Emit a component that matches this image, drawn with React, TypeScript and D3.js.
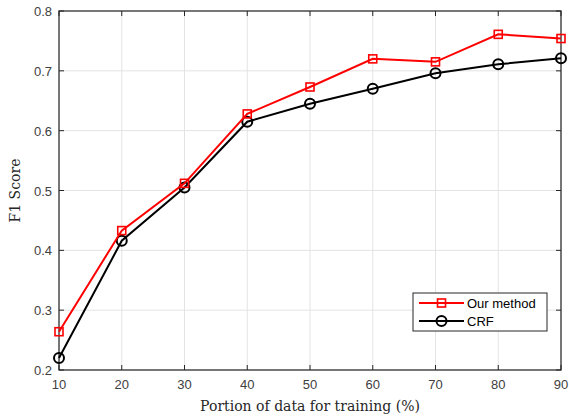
import React from "react";
import * as d3 from "d3";

const portions = [10, 20, 30, 40, 50, 60, 70, 80, 90];
const ourMethod = [0.264, 0.433, 0.512, 0.628, 0.673, 0.72, 0.715, 0.761, 0.754];
const crf = [0.22, 0.416, 0.505, 0.615, 0.645, 0.67, 0.696, 0.711, 0.721];
const xTicks = [10, 20, 30, 40, 50, 60, 70, 80, 90];
const yTicks = [0.2, 0.3, 0.4, 0.5, 0.6, 0.7, 0.8];

const W = 569, H = 419;
const margin = { top: 11, right: 8, bottom: 49, left: 59 };

export default function App() {
  const x = d3.scaleLinear().domain([10, 90]).range([margin.left, W - margin.right]);
  const y = d3.scaleLinear().domain([0.2, 0.8]).range([H - margin.bottom, margin.top]);
  const line = d3.line<number>().x((d, i) => x(portions[i])).y(d => y(d));

  const x0 = x.range()[0], x1 = x.range()[1];
  const y0 = y.range()[0], y1 = y.range()[1];
  const tickFont = "'Liberation Sans', Arial, sans-serif";
  const labelFont = "'DejaVu Serif', 'Liberation Serif', serif";

  return (
    <svg width={W} height={H} style={{ position: "absolute", left: 0, top: 0, background: "#fff" }}>
      {/* grid */}
      {xTicks.map(t => (
        <line key={"gx" + t} x1={x(t)} x2={x(t)} y1={y1} y2={y0} stroke="#e3e3e3" strokeWidth={1} />
      ))}
      {yTicks.map(t => (
        <line key={"gy" + t} x1={x0} x2={x1} y1={y(t)} y2={y(t)} stroke="#e3e3e3" strokeWidth={1} />
      ))}
      {/* ticks */}
      {xTicks.map(t => (
        <g key={"tx" + t}>
          <line x1={x(t)} x2={x(t)} y1={y0} y2={y0 - 5} stroke="#262626" />
          <line x1={x(t)} x2={x(t)} y1={y1} y2={y1 + 5} stroke="#262626" />
          <text x={x(t)} y={y0 + 19} textAnchor="middle" fontFamily={tickFont} fontSize={13} fill="#404040">{t}</text>
        </g>
      ))}
      {yTicks.map(t => (
        <g key={"ty" + t}>
          <line x1={x0} x2={x0 + 5} y1={y(t)} y2={y(t)} stroke="#262626" />
          <line x1={x1} x2={x1 - 5} y1={y(t)} y2={y(t)} stroke="#262626" />
          <text x={x0 - 7} y={y(t) + 5} textAnchor="end" fontFamily={tickFont} fontSize={13} fill="#404040">{t.toFixed(1)}</text>
        </g>
      ))}
      <rect x={x0} y={y1} width={x1 - x0} height={y0 - y1} fill="none" stroke="#262626" strokeWidth={1.2} />

      {/* series */}
      <path d={line(crf) || ""} fill="none" stroke="#000" strokeWidth={2} />
      {crf.map((v, i) => (
        <circle key={"c" + i} cx={x(portions[i])} cy={y(v)} r={5} fill="none" stroke="#000" strokeWidth={2} />
      ))}
      <path d={line(ourMethod) || ""} fill="none" stroke="#ff0000" strokeWidth={2} />
      {ourMethod.map((v, i) => (
        <rect key={"s" + i} x={x(portions[i]) - 4} y={y(v) - 4} width={8} height={8} fill="none" stroke="#ff0000" strokeWidth={1.6} />
      ))}

      {/* axis labels */}
      <text x={(x0 + x1) / 2} y={H - 8} textAnchor="middle" fontFamily={labelFont} fontSize={14} fill="#262626">
        Portion of data for training (%)
      </text>
      <text transform={`translate(20,${(y0 + y1) / 2}) rotate(-90)`} textAnchor="middle" fontFamily={labelFont} fontSize={14} fill="#262626">
        F1 Score
      </text>

      {/* legend */}
      <g>
        <rect x={413} y={293} width={134} height={38} fill="#fff" stroke="#262626" strokeWidth={1} />
        <line x1={419} x2={464} y1={303} y2={303} stroke="#ff0000" strokeWidth={2} />
        <rect x={437.5} y={299} width={8} height={8} fill="none" stroke="#ff0000" strokeWidth={1.6} />
        <text x={467} y={308} fontFamily={tickFont} fontSize={13} fill="#000">Our method</text>
        <line x1={419} x2={464} y1={321} y2={321} stroke="#000" strokeWidth={2} />
        <circle cx={441.5} cy={321} r={5} fill="none" stroke="#000" strokeWidth={2} />
        <text x={467} y={326} fontFamily={tickFont} fontSize={13} fill="#000">CRF</text>
      </g>
    </svg>
  );
}
